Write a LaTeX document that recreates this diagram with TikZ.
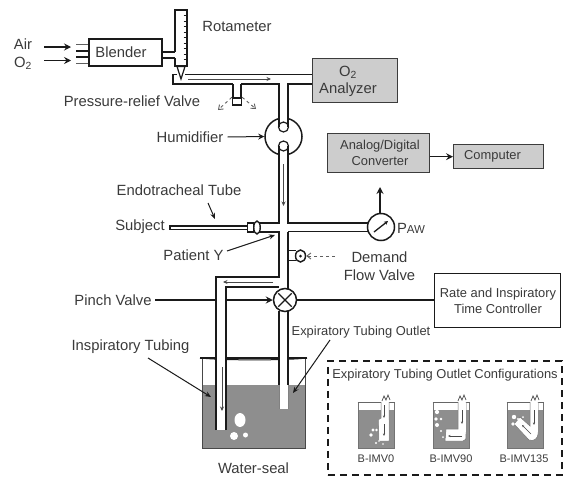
\documentclass[tikz,border=0pt]{standalone}
\usepackage{fontspec}
\setmainfont{Liberation Sans}
\usetikzlibrary{arrows.meta,calc,shapes.geometric}
\definecolor{txt}{HTML}{3A3A3A}
\definecolor{boxgray}{HTML}{CDCDCD}
\definecolor{water}{HTML}{8E8E8E}
\definecolor{ln}{HTML}{1A1A1A}
\tikzset{
  pipe/.style={draw=ln,line width=1.5pt,line join=miter},
  lbl/.style={text=txt,font=\fontsize{14.8}{17}\selectfont,inner sep=0pt,align=center},
  small lbl/.style={text=txt,font=\fontsize{12.9}{16}\selectfont,inner sep=0pt,align=center},
  tiny lbl/.style={text=txt,font=\fontsize{11}{13}\selectfont,inner sep=0pt,align=center},
  arr/.style={draw=ln,line width=1.2pt,-{Stealth[length=7pt,width=7pt,inset=2.5pt]}},
  pointer/.style={draw=ln,line width=1pt,-{Stealth[length=6pt,width=5pt]}},
  flow/.style={draw=ln!80,line width=0.7pt,-{Stealth[length=4.5pt,width=4pt]}},
  tinyflow/.style={draw=ln!80,line width=0.4pt,-{Stealth[length=2.5pt,width=2pt]}},
  grayed/.style={draw=ln!70,line width=0.9pt,dash pattern=on 3pt off 3pt,-{Straight Barb[length=4pt,width=6pt]}},
  graybox/.style={draw=ln!85,line width=1.3pt,fill=boxgray,inner sep=0pt,anchor=north west},
  plainbox/.style={draw=ln,line width=1.2pt,fill=white,inner sep=0pt,anchor=north west},
  thumbtube/.style={fill=white,draw=black!55,line width=0.5pt},
  bubble/.style={fill=white,draw=none},
}
\newcommand{\thumbbase}[1]{%
  \fill[white] (#1,402) rectangle ++(36,46);
  \fill[water] (#1,410) rectangle ++(36,38);
  \draw[black!55,line width=0.7pt] (#1,402) -- ++(0,46) -- ++(36,0) -- ++(0,-46);
  \draw[black!60,line width=0.9pt] (#1-0.5,402) -- ++(37,0);
}
\begin{document}
\begin{tikzpicture}[x=1pt,y=-1pt]
\useasboundingbox (0,0) rectangle (563,477);
% ---------- water seal
\fill[water] (202,385) rectangle (305,448);
\draw[draw=ln!80,line width=1pt] (202,358) -- (202,448) -- (305,448) -- (305,358);
\draw[pipe,line width=2pt] (200,358) -- (307,358);
\draw[ln,line width=1pt] (200,358) .. controls (225,360.5) and (285,360.5) .. (307,358);
% tubes in the seal
\fill[white] (216,300) rectangle (226,430);
\fill[white] (279,300) rectangle (288,409);
\draw[pipe] (216,430) -- (216,277) -- (279,277) -- (279,232) -- (259,232);
\draw[pipe] (226,430) -- (226,287) -- (279,287);
\draw[pipe] (279,311) -- (279,385);
\draw[pipe] (288,232) -- (288,289);
\draw[pipe] (288,311) -- (288,385);
\draw[draw=ln!55,line width=0.8pt] (279,385) -- (279,409);
\draw[draw=ln!55,line width=0.8pt] (288,385) -- (288,409);
\fill[bubble] (240,420) ellipse [x radius=5.5,y radius=7];
\fill[bubble] (234,436) circle [radius=4];
\fill[bubble] (245.5,435) circle [radius=2.5];
\coordinate (inA) at (222,367);
\coordinate (inB) at (222,411);
\draw[flow] (inA) -- (inB);
\coordinate (retA) at (273,282);
\coordinate (retB) at (223,282);
\draw[flow] (retA) -- (retB);
% ---------- blender and rotameter
\node[draw=ln,line width=1.5pt,minimum width=73pt,minimum height=27pt,inner sep=0pt,anchor=north west,fill=white] (blender) at (88,38) {};
\node[lbl] (blendertxt) at (121,52.5) {Blender};
\draw[draw=ln!70,line width=1pt] (76,44) -- (88,44) (76,63) -- (88,63);
\draw[draw=ln,line width=1.3pt] (76,51) -- (88,51) (76,57) -- (88,57);
\node[lbl] (air) at (23,44.5) {Air};
\node[lbl] (otwo) at (23,63) {O\textsubscript{2}};
\coordinate (airB) at (71,47);
\coordinate (oB) at (71,60.5);
\draw[arr] (44,47) -- (airB);
\draw[arr] (44,60.5) -- (oB);
\draw[pipe] (161,52) -- (175,52) (161,58) -- (175,58);
\draw[pipe] (175,52) -- (175,10) -- (187,10) -- (187,66) -- (175,66) -- (175,58);
\foreach \y in {15.5,21,26.5,32,37.5,43,48.5,54,59.5}{\draw[ln,line width=1pt] (183.5,\y) -- (187,\y);}
\draw[pipe,line width=1.2pt,fill=white] (177,66.5) -- (185,66.5) -- (181,79) -- cycle;
\draw[pipe] (177,74.5) -- (173,74.5) -- (173,84) -- (233,84);
\draw[pipe] (185,74.5) -- (312,74.5);
\draw[pipe] (241,84) -- (279,84) -- (279,127);
\draw[pipe] (288,127) -- (288,84) -- (312,84);
\coordinate (topA) at (188,79);
\coordinate (topB) at (271,79);
\draw[flow] (topA) -- (topB);
% relief valve
\draw[pipe] (233,84) -- (233,98) (241,84) -- (241,98);
\node[draw=ln,line width=1.4pt,minimum width=9pt,minimum height=7pt,inner sep=0pt,fill=white] (relief) at (237,101.5) {};
\coordinate (rl) at (218,110);
\coordinate (rr) at (256,109);
\draw[grayed] (relief.north west) -- (rl);
\draw[grayed] (relief.north east) -- (rr);
% ---------- humidifier
\fill[white] (279.7,117) rectangle (287.3,127);
\node[draw=ln,line width=1.5pt,circle,minimum size=37pt,inner sep=0pt] (hum) at (283.5,136.5) {};
\fill[white] (279.7,116) rectangle (287.3,122);
\fill[white] (279.7,151) rectangle (287.3,157);
\draw[ln,line width=1.2pt] (283.5,127) circle [radius=5];
\draw[ln,line width=1.2pt] (283.5,146) circle [radius=5];
\draw[pipe] (279,146) -- (279,223) -- (259,223);
\draw[pipe] (288,146) -- (288,223) -- (368,223);
\draw[pipe] (288,231.5) -- (368,231.5);
\coordinate (downA) at (283.5,164);
\coordinate (downB) at (283.5,206);
\draw[flow] (downA) -- (downB);
% ---------- patient connector
\draw[pipe,line width=1.3pt,fill=white] (170,226) rectangle (248,229.5);
\node[draw=ln,line width=1.3pt,minimum width=6pt,minimum height=9pt,inner sep=0pt,fill=white] (conn) at (250.5,227.5) {};
\node[draw=ln,line width=1.4pt,ellipse,minimum width=6.5pt,minimum height=13pt,inner sep=0pt,fill=white] (cuff) at (257,227.5) {};
% ---------- gauge
\node[draw=ln,line width=1.5pt,circle,minimum size=27pt,inner sep=0pt,fill=white] (gauge) at (381,227) {};
\coordinate (needleA) at (374,232);
\coordinate (needleB) at (388,221);
\draw[draw=ln,line width=1.3pt,-{Stealth[length=4pt,width=4pt]}] (needleA) -- (needleB);
\coordinate (adcIn) at (380,187);
\draw[arr] (gauge.north) ++(-1,0) -- (adcIn);
\node[lbl] (paw) at (411,228) {P{\fontsize{11.5}{13}\selectfont AW}};
% ---------- demand valve
\draw[pipe] (288,250.5) -- (296,250.5) (288,260.5) -- (296,260.5);
\node[draw=ln,line width=1.4pt,ellipse,minimum width=10pt,minimum height=12pt,inner sep=0pt,fill=white] (demand) at (300.5,256) {};
\fill[ln] (demand.center) circle [radius=1.5];
\coordinate (demandA) at (335,256);
\draw[grayed] (demandA) -- (demand.east);
\node[lbl] (demandtxt) at (379.5,266) {Demand\\[1pt]Flow Valve};
% ---------- pinch valve
\node[draw=ln,line width=1.5pt,circle,minimum size=23pt,inner sep=0pt,fill=white] (pinch) at (285,300) {};
\draw[draw=ln,line width=1.1pt] ($(pinch.45)+(-2,2)$) -- ($(pinch.225)+(2,-2)$);
\draw[draw=ln,line width=1.1pt] ($(pinch.135)+(2,2)$) -- ($(pinch.315)+(-2,-2)$);
\node[lbl] (pinchtxt) at (113,300) {Pinch Valve};
\draw[draw=ln,line width=1.2pt] (155,300) -- (215.5,300);
\coordinate (pinchgap) at (226.5,300);
\draw[arr] (pinchgap) -- (pinch.west);
% ---------- boxes
\node[graybox,minimum width=85pt,minimum height=44pt] (analyzer) at (312,58) {};
\node[lbl] (analyzertxt) at (348,81) {O\textsubscript{2}\\Analyzer};
\node[graybox,minimum width=102pt,minimum height=39pt] (adc) at (327,133) {};
\node[small lbl] (adctxt) at (380,152.5) {Analog/Digital\\Converter};
\node[graybox,minimum width=90pt,minimum height=24pt] (computer) at (453,144) {};
\node[small lbl] (computertxt) at (492.5,156) {Computer};
\draw[arr] (adc.east |- computer.west) -- (computer.west);
\node[plainbox,minimum width=126pt,minimum height=54pt] (rate) at (434,273) {};
\node[small lbl] (ratetxt) at (498,301) {Rate and Inspiratory\\Time Controller};
\draw[draw=ln,line width=1.2pt] (pinch.east) -- (pinch.east -| rate.west);
% ---------- labels
\node[lbl] (rotatxt) at (237,26) {Rotameter};
\node[lbl] (relieftxt) at (132,101) {Pressure-relief Valve};
\node[lbl] (humtxt) at (190,137) {Humidifier};
\draw[draw=ln,line width=1pt,-{Stealth[length=6pt,width=6pt,inset=2pt]}] ($(humtxt.east)+(4,0)$) -- (hum.west);
\node[lbl] (etttxt) at (179,190) {Endotracheal Tube};
\coordinate (ettB) at (215,219);
\draw[pointer] (208,203) -- (ettB);
\node[lbl] (subject) at (140,227) {Subject};
\node[lbl] (patient) at (193.5,255) {Patient Y};
\coordinate (patB) at (275,235);
\draw[pointer] (227,251) -- (patB);
\node[lbl] (insp) at (130.5,347) {Inspiratory Tubing};
\coordinate (inspB) at (211,397);
\draw[pointer] (148,358) -- (inspB);
\node[small lbl] (expo) at (361,332) {Expiratory Tubing Outlet};
\coordinate (expoB) at (293,393);
\draw[pointer] (330,340) -- (expoB);
\node[lbl] (seal) at (253.5,468) {Water-seal};
% ---------- configurations panel
\node[draw=ln,line width=1.5pt,dash pattern=on 7pt off 5pt,minimum width=234pt,minimum height=114pt,inner sep=0pt,anchor=north west] (panel) at (327,360) {};
\node[small lbl] (paneltxt) at (445,375) {Expiratory Tubing Outlet Configurations};
% thumb 1
\thumbbase{358}
\draw[thumbtube] (381,402) -- (381,420) -- (378.5,424) -- (379,441) -- (389,441) -- (389,402);
\fill[white] (378.8,420) -- (384,417) -- (388.5,420) -- (388.5,440) -- (379.5,440) -- cycle;
\foreach \p/\r in {373/1.6,376.5/1.3}{\fill[bubble] (\p,430) circle [radius=\r];}
\fill[bubble] (371,435) circle [radius=1.8];
\fill[bubble] (379,441) circle [radius=0.9];
\fill[bubble] (376,443) circle [radius=1.1];
\fill[bubble] (383,444) circle [radius=0.8];
\draw[tinyflow] (384,405) -- (384,418);
\draw[tinyflow] (384,424) -- (384,436);
\draw[black!70,line width=0.7pt] (382,401) -- (384,396) -- (386,400) -- (388,395) -- (390,400);
% thumb 2
\thumbbase{433}
\draw[thumbtube] (458,402) -- (458,429) -- (446,429) -- (445,441) -- (463,441) .. controls (466,440) .. (466,434) -- (466,402);
\fill[white] (458.5,402.5) rectangle (465.5,432);
\draw[tinyflow] (462,410) -- (462,424);
\draw[tinyflow] (462,436) -- (448,436);
\foreach \x/\y/\r in {437/412/2.1,441/419/1.4,436/419/1.8,437/425/2.0,441/431/1.1,443/437/1.0}{\fill[bubble] (\x,\y) circle [radius=\r];}
\draw[black!70,line width=0.7pt] (458,401) -- (460,396) -- (462,400) -- (464,395) -- (466,400);
% thumb 3
\thumbbase{507}
\draw[thumbtube] (530,402) -- (530,426) -- (520,417) -- (514,424) -- (529,440) .. controls (534,442) and (538,438) .. (538,434) -- (538,402);
\fill[white] (530.5,402.5) rectangle (537.5,432);
\draw[tinyflow] (534,410) -- (534,425);
\draw[tinyflow] (531,434) -- (522,425);
\foreach \x/\y/\r in {514/417/2.2,518/419/1.2,513/424/1.8,519/425/1.2,523/417/1}{\fill[bubble] (\x,\y) circle [radius=\r];}
\draw[black!70,line width=0.7pt] (531,401) -- (533,396) -- (535,400) -- (537,395) -- (539,400);
\node[tiny lbl] (bz) at (376,459) {B-IMV0};
\node[tiny lbl] (bn) at (451,459) {B-IMV90};
\node[tiny lbl] (bo) at (524,459) {B-IMV135};
\end{tikzpicture}
\end{document}
